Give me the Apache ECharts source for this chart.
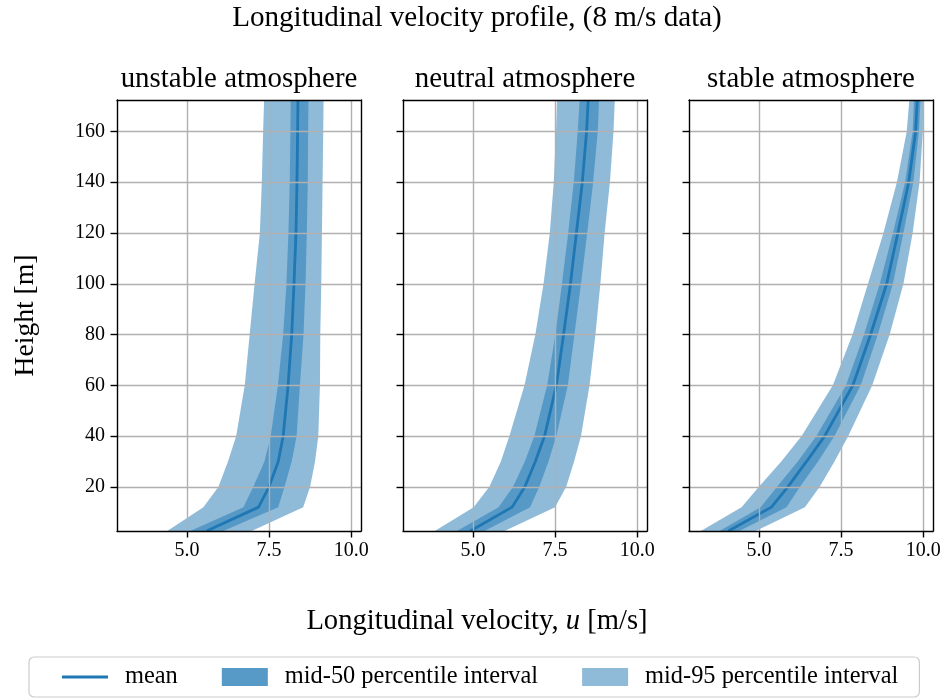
<!DOCTYPE html>
<html>
<head>
<meta charset="utf-8">
<script src="https://cdn.jsdelivr.net/npm/echarts@6/dist/echarts.min.js"></script>
<style>html,body{margin:0;padding:0;background:#fff}#c{width:947px;height:699px}</style>
</head>
<body>
<div id="c"></div>
<script>
// ---------------- data ----------------
const heights = [2.6, 12, 20, 30, 40, 60, 80, 100, 120, 140, 160, 172.4];
const panelTitles = ['unstable atmosphere', 'neutral atmosphere', 'stable atmosphere'];
const xTicks = [5.0, 7.5, 10.0];
const yTicks = [20, 40, 60, 80, 100, 120, 140, 160];

const unstableLo95 = [4.40, 5.50, 5.96, 6.25, 6.50, 6.76, 6.91, 7.06, 7.22, 7.28, 7.32, 7.35];
const unstableLo50 = [5.10, 6.72, 7.02, 7.36, 7.55, 7.77, 7.93, 8.03, 8.09, 8.13, 8.15, 8.16];
const unstableMean = [5.60, 7.18, 7.50, 7.78, 7.93, 8.08, 8.19, 8.26, 8.32, 8.35, 8.37, 8.38];
const unstableHi50 = [6.10, 7.78, 7.97, 8.19, 8.34, 8.44, 8.55, 8.61, 8.65, 8.68, 8.69, 8.70];
const unstableHi95 = [6.97, 8.54, 8.75, 8.90, 9.00, 9.05, 9.06, 9.09, 9.11, 9.13, 9.15, 9.16];

const neutralLo95 = [3.84, 5.02, 5.50, 5.85, 6.11, 6.57, 6.90, 7.15, 7.34, 7.46, 7.53, 7.56];
const neutralLo50 = [4.51, 5.78, 6.22, 6.58, 6.87, 7.26, 7.51, 7.71, 7.90, 8.07, 8.19, 8.25];
const neutralMean = [4.92, 6.19, 6.58, 6.90, 7.18, 7.54, 7.76, 7.97, 8.15, 8.33, 8.46, 8.51];
const neutralHi50 = [5.35, 6.74, 7.02, 7.30, 7.54, 7.89, 8.09, 8.29, 8.48, 8.66, 8.80, 8.84];
const neutralHi95 = [5.96, 7.50, 7.84, 8.08, 8.29, 8.55, 8.73, 8.88, 9.01, 9.17, 9.28, 9.32];

const stableLo95 = [3.23, 4.47, 5.00, 5.68, 6.30, 7.25, 7.85, 8.32, 8.79, 9.20, 9.50, 9.58];
const stableLo50 = [3.80, 5.05, 5.55, 6.18, 6.75, 7.65, 8.20, 8.68, 9.08, 9.45, 9.68, 9.72];
const stableMean = [4.07, 5.38, 5.88, 6.45, 7.00, 7.86, 8.40, 8.89, 9.23, 9.56, 9.77, 9.82];
const stableHi50 = [4.40, 5.84, 6.25, 6.80, 7.30, 8.10, 8.62, 9.08, 9.40, 9.70, 9.87, 9.92];
const stableHi95 = [4.90, 6.40, 6.85, 7.30, 7.72, 8.45, 8.98, 9.40, 9.68, 9.89, 9.99, 10.02];

const xMin = 2.87, xMax = 10.3;

const panels = [
  {lo95: unstableLo95, lo50: unstableLo50, mean: unstableMean, hi50: unstableHi50, hi95: unstableHi95},
  {lo95: neutralLo95, lo50: neutralLo50, mean: neutralMean, hi50: neutralHi50, hi95: neutralHi95},
  {lo95: stableLo95, lo50: stableLo50, mean: stableMean, hi50: stableHi50, hi95: stableHi95}
];

// ---------------- styling ----------------
const FONT = '"Liberation Serif", serif';
const ctx = document.createElement('canvas').getContext('2d');
function fit(text, target) {
  ctx.font = '100px "Liberation Serif"';
  return +(100 * target / ctx.measureText(text).width).toFixed(1);
}
const C0 = '#1f77b4';
const band = 'rgba(31,119,180,0.5)';
const gridLefts = [117, 403, 689];
const gridW = 244, gridTop = 100, gridH = 431;
const mainTitle = 'Longitudinal velocity profile, (8 m/s data)';
const titleSize = fit(mainTitle, 490);
const subSize = fit('unstable atmosphere', 237);
const xNameSize = fit('Longitudinal velocity, u [m/s]', 341);
const legendSize = fit('mid-50 percentile interval', 253);
const tickSize = 20;

const names = ['mean', 'mid-50 percentile interval', 'mid-95 percentile interval'];

const grids = [], xAxes = [], yAxes = [], series = [], titles = [];

titles.push({text: mainTitle, left: 477, top: 18, textAlign: 'center', textVerticalAlign: 'middle', padding: 0,
  textStyle: {fontFamily: FONT, fontWeight: 'normal', fontSize: titleSize, color: '#000'}});
titles.push({text: 'Longitudinal velocity, {i|u} [m/s]', left: 477, top: 621, textAlign: 'center', textVerticalAlign: 'middle', padding: 0,
  textStyle: {fontFamily: FONT, fontWeight: 'normal', fontSize: xNameSize, color: '#000',
    rich: {i: {fontFamily: FONT, fontStyle: 'italic', fontSize: xNameSize, color: '#000'}}}});

function bandSeries(i, lo, hi, name, color) {
  return {
    type: 'custom', name: name, xAxisIndex: 2 * i, yAxisIndex: 2 * i,
    coordinateSystem: 'cartesian2d', silent: true, z: 2,
    itemStyle: {color: color},
    data: [[lo[0], heights[0]]],
    renderItem: function (params, api) {
      const pts = [];
      for (let k = 0; k < heights.length; k++) pts.push(api.coord([lo[k], heights[k]]));
      for (let k = heights.length - 1; k >= 0; k--) pts.push(api.coord([hi[k], heights[k]]));
      return {type: 'polygon', shape: {points: pts}, style: {fill: band}};
    }
  };
}

panels.forEach((p, i) => {
  grids.push({left: gridLefts[i], top: gridTop, width: gridW, height: gridH, containLabel: false});
  titles.push({text: panelTitles[i], left: gridLefts[i] + gridW / 2, top: 79, textAlign: 'center', textVerticalAlign: 'middle', padding: 0,
    textStyle: {fontFamily: FONT, fontWeight: 'normal', fontSize: subSize, color: '#000'}});
  xAxes.push({
    type: 'value', gridIndex: i, min: xMin, max: xMax, position: 'bottom',
    axisLine: {show: true, onZero: false, lineStyle: {color: '#000', width: 1.4}},
    axisTick: {show: true, customValues: xTicks, length: 6.5, lineStyle: {color: '#000', width: 1.4}},
    axisLabel: {show: true, customValues: xTicks, formatter: v => v.toFixed(1), margin: 10,
      fontFamily: FONT, fontSize: tickSize, color: '#000'},
    splitLine: {show: true, lineStyle: {color: '#b0b0b0', width: 1.4}},
    z: 10
  });
  xAxes.push({
    type: 'value', gridIndex: i, min: xMin, max: xMax, position: 'top',
    axisLine: {show: true, onZero: false, lineStyle: {color: '#000', width: 1.4}},
    axisTick: {show: false}, axisLabel: {show: false}, splitLine: {show: false}, z: 10
  });
  yAxes.push({
    type: 'value', gridIndex: i, min: heights[0], max: heights[heights.length - 1], position: 'left',
    axisLine: {show: true, onZero: false, lineStyle: {color: '#000', width: 1.4}},
    axisTick: {show: true, customValues: yTicks, length: 6.5, lineStyle: {color: '#000', width: 1.4}},
    axisLabel: {show: i === 0, customValues: yTicks, margin: 12, fontFamily: FONT, fontSize: tickSize, color: '#000'},
    splitLine: {show: true, lineStyle: {color: '#b0b0b0', width: 1.4}},
    name: i === 0 ? 'Height [m]' : '', nameLocation: 'middle', nameRotate: 90, nameGap: 77,
    nameTextStyle: {fontFamily: FONT, fontSize: fit('Height [m]', 122), color: '#000'},
    z: 10
  });
  yAxes.push({
    type: 'value', gridIndex: i, min: heights[0], max: heights[heights.length - 1], position: 'right',
    axisLine: {show: true, onZero: false, lineStyle: {color: '#000', width: 1.4}},
    axisTick: {show: false}, axisLabel: {show: false}, splitLine: {show: false}, z: 10
  });
  series.push(bandSeries(i, p.lo95, p.hi95, names[2], '#8fbbd9'));
  series.push(bandSeries(i, p.lo50, p.hi50, names[1], '#5799c7'));
  series.push({
    type: 'line', name: names[0], xAxisIndex: 2 * i, yAxisIndex: 2 * i,
    data: heights.map((h, k) => [p.mean[k], h]),
    showSymbol: false, symbol: 'none', smooth: false, z: 5,
    lineStyle: {color: C0, width: 2.8}, itemStyle: {color: C0}
  });
});

const chart = echarts.init(document.getElementById('c'), null, {renderer: 'canvas'});
chart.setOption({
  animation: false,
  backgroundColor: '#fff',
  title: titles,
  grid: grids,
  xAxis: xAxes,
  yAxis: yAxes,
  legend: {
    left: 29, top: 657,
    padding: [8, 21, 8, 33],
    itemGap: 44, itemWidth: 46, itemHeight: 18,
    borderColor: '#cccccc', borderWidth: 1.2, borderRadius: 5,
    selectedMode: false,
    textStyle: {fontFamily: FONT, fontSize: legendSize, color: '#000', padding: [0, 0, 0, 12]},
    data: [
      {name: names[0], icon: 'path://M0,0h46v3h-46z', itemStyle: {color: C0}},
      {name: names[1], icon: 'rect', itemStyle: {color: '#5799c7'}},
      {name: names[2], icon: 'rect', itemStyle: {color: '#8fbbd9'}}
    ]
  },
  series: series
});
</script>
</body>
</html>
